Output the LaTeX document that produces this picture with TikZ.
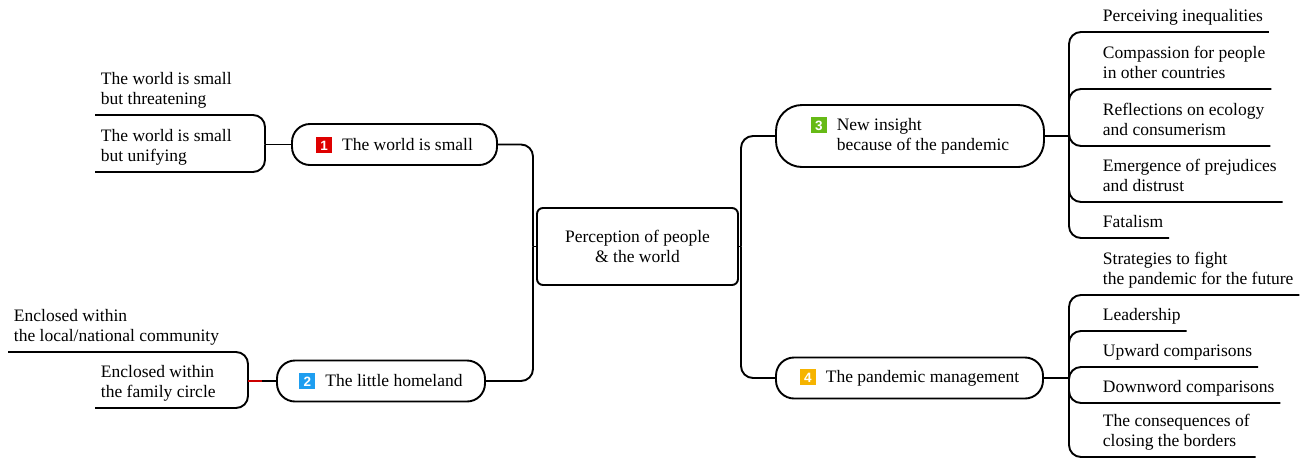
\documentclass[tikz,border=0pt]{standalone}
\usepackage{fontspec}
\usepackage{tikz}
\usetikzlibrary{arrows.meta,calc,positioning,shapes.misc}
\setmainfont{Liberation Serif}
\newfontfamily\numfont{Liberation Sans}
\definecolor{tagred}{RGB}{222,0,0}
\definecolor{tagblue}{RGB}{30,158,240}
\definecolor{taggreen}{RGB}{102,186,22}
\definecolor{taggold}{RGB}{246,180,0}
\newcommand{\numtag}[2]{{\setlength{\fboxsep}{0pt}\colorbox{#1}{\makebox[16pt]{\rule[-2.5pt]{0pt}{16pt}\numfont\fontsize{13.5}{13.5}\selectfont\bfseries\color{white}#2}}}}

\begin{document}
\begin{tikzpicture}[x=1pt,y=-1pt,line width=1.9pt,rounded corners=12pt,
  every node/.style={font=\fontsize{17.5}{20}\selectfont},
  hub/.style={draw,rounded corners=6pt,align=center,minimum width=201pt,minimum height=77pt},
  topic/.style={draw,rounded corners=18pt,minimum height=41pt,inner sep=0pt},
  leaf/.style={anchor=south west,align=left,inner xsep=5pt,inner ysep=6pt,text depth=4pt}]
\useasboundingbox (0,0) rectangle (1303,459);
\node[hub] (hub) at (637.5,246.5) {Perception of people\\\& the world};
\node[topic,minimum width=205pt] (n1) at (394.5,144.5) {\numtag{tagred}{1}\hspace{10pt}The world is small};
\node[topic,minimum width=208pt] (n2) at (381,381) {\numtag{tagblue}{2}\hspace{10pt}The little homeland};
\node[topic,minimum width=268pt,minimum height=62pt,rounded corners=26pt] (n3) at (910,136)
  {\numtag{taggreen}{3}\hspace{10pt}\begin{tabular}[t]{@{}l@{}}New insight\\because of the pandemic\end{tabular}};
\node[topic,minimum width=267pt] (n4) at (909.5,378) {\numtag{taggold}{4}\hspace{10pt}The pandemic management};
% branch points
\coordinate (lf) at (533,246.5);
\coordinate (rf) at (741,246.5);
\coordinate (f1) at (265,144.5);
\coordinate (f2) at (248,381);
\coordinate (f3) at (1069,136);
\coordinate (f4) at (1069,378);
% leaves
\node[leaf] (c11) at (95,115) {The world is small\\but threatening};
\node[leaf] (c12) at (95,172) {The world is small\\but unifying};
\node[leaf] (c21) at (8,352) {Enclosed within\\the local/national community};
\node[leaf] (c22) at (95,408) {Enclosed within\\the family circle};
\node[leaf] (c31) at (1097,32) {Perceiving inequalities};
\node[leaf] (c32) at (1097,89) {Compassion for people\\in other countries};
\node[leaf] (c33) at (1097,146) {Reflections on ecology\\and consumerism};
\node[leaf] (c34) at (1097,202) {Emergence of prejudices\\and distrust};
\node[leaf] (c35) at (1097,238) {Fatalism};
\node[leaf] (c41) at (1097,295) {Strategies to fight\\the pandemic for the future};
\node[leaf] (c42) at (1097,331) {Leadership};
\node[leaf] (c43) at (1097,367) {Upward comparisons};
\node[leaf] (c44) at (1097,403) {Downword comparisons};
\node[leaf] (c45) at (1097,457) {The consequences of\\closing the borders};
% connectors
\draw (hub.west) -- (lf) (hub.east) -- (rf);
\draw (lf) |- (n1.east); \draw (lf) |- (n2.east);
\draw (rf) |- (n3.west); \draw (rf) |- (n4.west);
\draw (n1.west) -- (f1); \draw (f1) |- (c11.south west); \draw (f1) |- (c12.south west);
\draw (n2.west) -- (f2); \draw (f2) |- (c21.south west); \draw (f2) |- (c22.south west);
\draw[rounded corners=0pt,red!80!black] (f2) -- ++(14,0);
\draw (n3.east) -- (f3);
\draw (f3) |- (c31.south east); \draw (f3) |- (c32.south east); \draw (f3) |- (c33.south east);
\draw (f3) |- (c34.south east); \draw (f3) |- (c35.south east);
\draw (n4.east) -- (f4);
\draw (f4) |- (c41.south east); \draw (f4) |- (c42.south east); \draw (f4) |- (c43.south east);
\draw (f4) |- (c44.south east); \draw (f4) |- (c45.south east);
\end{tikzpicture}
\end{document}
